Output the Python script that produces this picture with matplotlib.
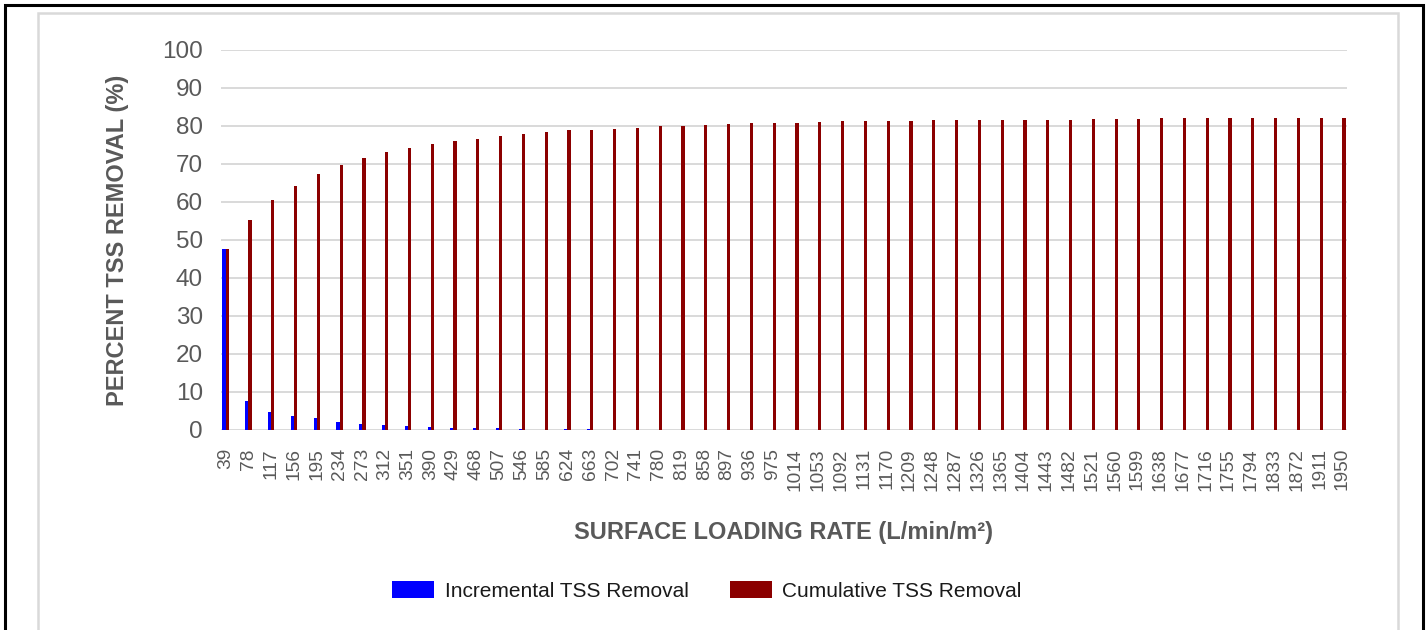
import matplotlib.pyplot as plt
import numpy as np
from matplotlib.patches import Rectangle

plt.rcParams['font.family'] = ['Liberation Sans', 'DejaVu Sans']

# surface loading rate categories (L/min/m2)
loadingRates = [39, 78, 117, 156, 195, 234, 273, 312, 351, 390,
                429, 468, 507, 546, 585, 624, 663, 702, 741, 780,
                819, 858, 897, 936, 975, 1014, 1053, 1092, 1131, 1170,
                1209, 1248, 1287, 1326, 1365, 1404, 1443, 1482, 1521, 1560,
                1599, 1638, 1677, 1716, 1755, 1794, 1833, 1872, 1911, 1950]

incremental = [47.6, 7.6, 4.7, 3.6, 3.1, 2.1, 1.6, 1.4, 1.05, 0.8,
               0.6, 0.45, 0.5, 0.35, 0.1, 0.26, 0.2, 0.1, 0.1, 0.1,
               0.1, 0.1, 0.1, 0.1, 0.1, 0.1, 0.1, 0.1, 0.1, 0.1,
               0.1, 0.1, 0.1, 0.1, 0.1, 0.1, 0.0, 0.1, 0.1, 0.1,
               0.1, 0.1, 0.1, 0.1, 0.1, 0.0, 0.1, 0.0, 0.0, 0.0]

cumulative = [47.6, 55.3, 60.4, 64.1, 67.4, 69.7, 71.6, 73.1, 74.2, 75.3,
              76.1, 76.6, 77.4, 78.0, 78.3, 78.9, 78.9, 79.3, 79.6, 80.0,
              80.0, 80.2, 80.5, 80.7, 80.7, 80.9, 81.05, 81.2, 81.2, 81.3,
              81.3, 81.5, 81.5, 81.5, 81.7, 81.7, 81.7, 81.7, 81.8, 81.8,
              81.8, 82.0, 82.0, 82.0, 82.0, 82.0, 82.2, 82.2, 82.2, 82.2]

textGray = '#595959'
gridGray = '#D9D9D9'

fig = plt.figure(figsize=(14.28, 6.3), dpi=100)
ax = fig.add_axes([221/1428, 1 - 430/630, (1347 - 221)/1428, 380/630])

x = np.arange(len(loadingRates))
barW = 0.14
ax.bar(x - barW/2, incremental, width=barW, color='#0000FF', label='Incremental TSS Removal', zorder=3)
ax.bar(x + barW/2, cumulative, width=barW, color='#8B0000', label='Cumulative TSS Removal', zorder=3)

ax.set_xlim(-0.2, len(loadingRates) - 0.8)
ax.set_ylim(0, 100)
ax.set_yticks(range(0, 101, 10))
ax.set_xticks(x)
ax.set_xticklabels([str(v) for v in loadingRates], rotation=90, fontsize=13.8, color=textGray)
ax.tick_params(axis='y', labelsize=17.5, labelcolor=textGray, length=0, pad=13)
ax.tick_params(axis='x', length=0, pad=13)
ax.yaxis.grid(True, color=gridGray, linewidth=1.4, zorder=0)
ax.set_axisbelow(True)
for s in ax.spines.values():
    s.set_visible(False)

ax.set_ylabel('PERCENT TSS REMOVAL (%)', fontsize=17, fontweight='bold', color=textGray, labelpad=24)
ax.set_xlabel('SURFACE LOADING RATE (L/min/m²)', fontsize=17, fontweight='bold', color=textGray, labelpad=22)

fig.legend(loc='center', bbox_to_anchor=(707/1428, 1 - 591/630), ncol=2, frameon=False,
           fontsize=15, handlelength=2.0, handleheight=0.9, handletextpad=0.5,
           columnspacing=2.0, labelcolor='#1a1a1a')

# chart frames (outer black border, inner gray chart area border)
fig.add_artist(Rectangle((38/1428, -0.1), (1398 - 38)/1428, 1.1 - 13/630, transform=fig.transFigure,
                         fill=False, edgecolor=gridGray, linewidth=1.8))
fig.add_artist(Rectangle((5/1428, -0.1), (1423 - 5)/1428, 1.1 - 5/630, transform=fig.transFigure,
                         fill=False, edgecolor='black', linewidth=2.2))

fig.savefig('out.png', dpi=100)
